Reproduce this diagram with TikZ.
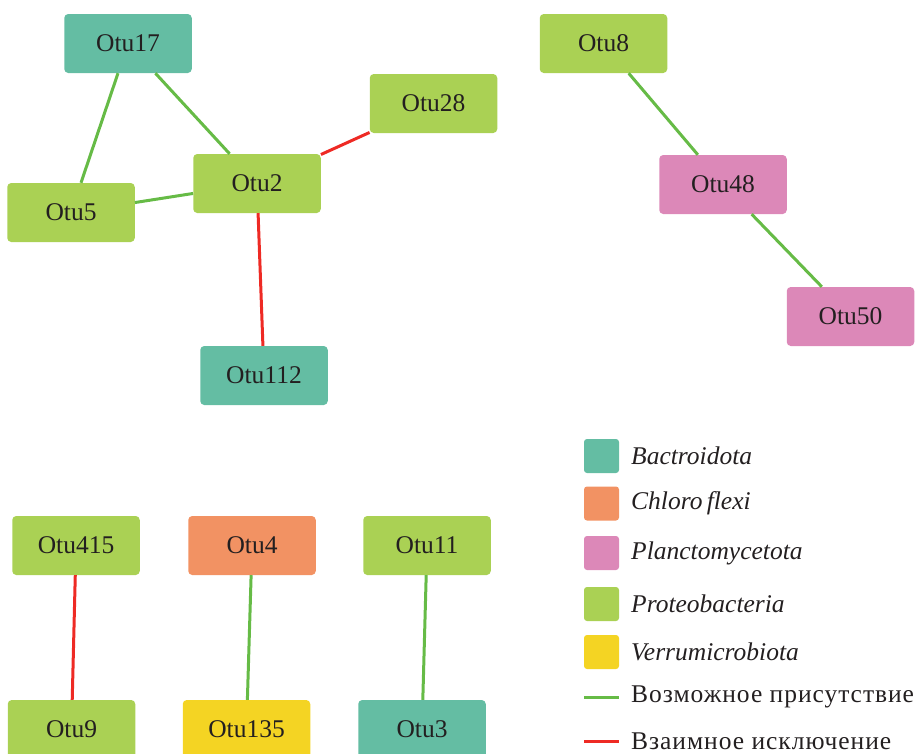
\documentclass[tikz,border=0pt]{standalone}
\usepackage{fontspec}
\setmainfont{Liberation Serif}
\newfontfamily\widecyr[LetterSpace=3.8]{Liberation Serif}
\usepackage{xcolor}
\usepackage{tikz}
\definecolor{bactcol}{HTML}{64BDA3}
\definecolor{chlorocol}{HTML}{F29263}
\definecolor{planccol}{HTML}{DC88B8}
\definecolor{proteocol}{HTML}{AAD154}
\definecolor{verrucol}{HTML}{F4D423}
\definecolor{cooccol}{HTML}{66BB46}
\definecolor{exclcol}{HTML}{EE2A24}
\definecolor{ink}{HTML}{231F20}

\begin{document}
\begin{tikzpicture}[x=10pt,y=10pt]
\tikzstyle{every node}+=[inner sep=0pt, text=ink, font=\fontsize{25.5}{30}\selectfont]
\tikzstyle{otu}=[rectangle, rounded corners=4pt, minimum width=127.5pt, minimum height=59pt]
\tikzstyle{key}=[rectangle, rounded corners=3pt, minimum width=35pt, minimum height=34pt]
\tikzstyle{cooc}=[draw=cooccol, line width=3pt]
\tikzstyle{excl}=[draw=exclcol, line width=3pt]
\useasboundingbox (0,0) rectangle (91.7,-75.3);
\node [otu, fill=bactcol] (otu17) at (12.8,-4.35) {Otu17};
\node [otu, fill=proteocol] (otu28) at (43.35,-10.35) {Otu28};
\node [otu, fill=proteocol] (otu2) at (25.7,-18.35) {Otu2};
\node [otu, fill=proteocol] (otu5) at (7.1,-21.25) {Otu5};
\node [otu, fill=bactcol] (otu112) at (26.4,-37.55) {Otu112};
\node [otu, fill=proteocol] (otu8) at (60.35,-4.35) {Otu8};
\node [otu, fill=planccol] (otu48) at (72.3,-18.45) {Otu48};
\node [otu, fill=planccol] (otu50) at (85.05,-31.65) {Otu50};
\node [otu, fill=proteocol] (otu415) at (7.6,-54.55) {Otu415};
\node [otu, fill=chlorocol] (otu4) at (25.2,-54.55) {Otu4};
\node [otu, fill=proteocol] (otu11) at (42.7,-54.55) {Otu11};
\node [otu, fill=proteocol] (otu9) at (7.15,-72.95) {Otu9};
\node [otu, fill=verrucol] (otu135) at (24.65,-72.95) {Otu135};
\node [otu, fill=bactcol] (otu3) at (42.2,-72.95) {Otu3};
\draw [cooc] (otu17) -- (otu5);
\draw [cooc] (otu17) -- (otu2);
\draw [cooc] (otu2) -- (otu5);
\draw [excl] (otu2) -- (otu28);
\draw [excl] (otu2) -- (otu112);
\draw [cooc] (otu8) -- (otu48);
\draw [cooc] (otu48) -- (otu50);
\draw [excl] (otu415) -- (otu9);
\draw [cooc] (otu4) -- (otu135);
\draw [cooc] (otu11) -- (otu3);
\node [key, fill=bactcol] (keybact) at (60.15,-45.6) {};
\node [key, fill=chlorocol] (keychloro) at (60.15,-50.35) {};
\node [key, fill=planccol] (keyplanc) at (60.15,-55.3) {};
\node [key, fill=proteocol] (keyproteo) at (60.15,-60.4) {};
\node [key, fill=verrucol] (keyverru) at (60.15,-65.2) {};
\node [anchor=west] (labbact) at (63.1,-45.6) {\itshape Bactroidota};
\node [anchor=west] (labchloro) at (63.1,-50.35) {\itshape Chloro\,flexi};
\node [anchor=west] (labplanc) at (63.1,-55.3) {\itshape Planctomycetota};
\node [anchor=west] (labproteo) at (63.1,-60.4) {\itshape Proteobacteria};
\node [anchor=west] (labverru) at (63.1,-65.2) {\itshape Verrumicrobiota};
\coordinate (coocl) at (58.4,-69.7);
\coordinate (coocr) at (61.9,-69.7);
\coordinate (excll) at (58.4,-74.1);
\coordinate (exclr) at (61.9,-74.1);
\draw [cooc] (coocl) -- (coocr);
\draw [excl] (excll) -- (exclr);
\node [anchor=west, font=\fontsize{25.5}{30}\widecyr] (labcooc) at (63.1,-69.7) {Возможное присутствие};
\node [anchor=west, font=\fontsize{25.5}{30}\widecyr] (labexcl) at (63.1,-74.1) {Взаимное исключение};
\end{tikzpicture}
\end{document}
